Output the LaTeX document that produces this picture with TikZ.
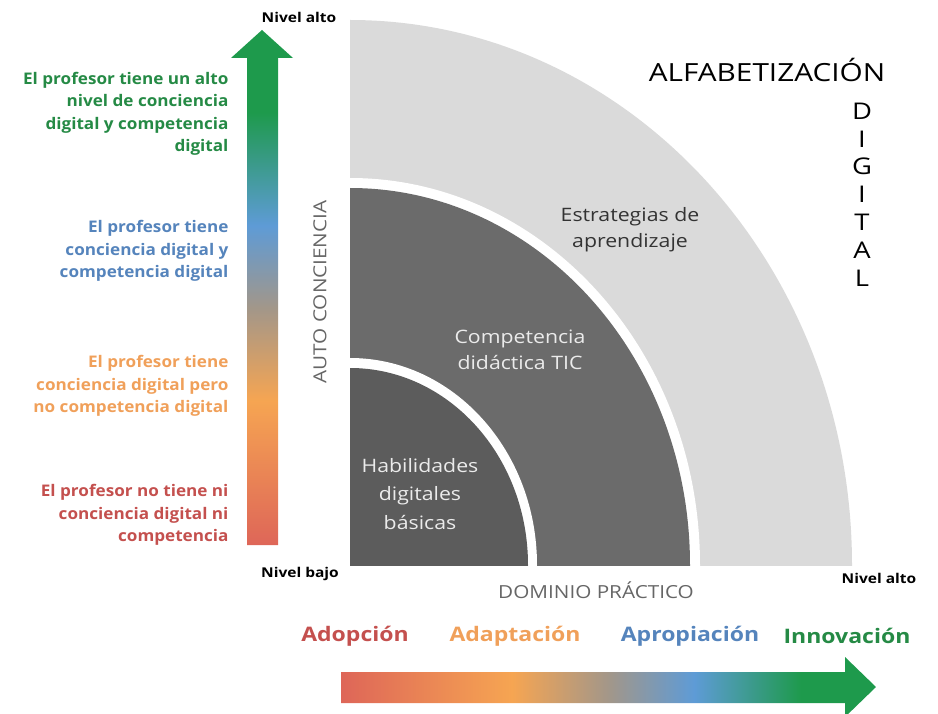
\documentclass[tikz,border=0pt]{standalone}
\usepackage{fontspec}
\setmainfont{Open Sans}
\newfontfamily\widefont{Open Sans}[FakeStretch=1.15]
\newfontfamily\levelfont{Open Sans}[FakeStretch=1.07]
\newfontfamily\titlefont{Open Sans}[FakeStretch=1.19]

\definecolor{ringlight}{HTML}{DADADA}
\definecolor{ringmid}{HTML}{6B6B6B}
\definecolor{ringin}{HTML}{5C5C5C}
\definecolor{redA}{HTML}{DE6658}
\definecolor{orangeA}{HTML}{F6A552}
\definecolor{blueA}{HTML}{5E9BD6}
\definecolor{greenA}{HTML}{1E9A4C}
\definecolor{txtred}{HTML}{C4504E}
\definecolor{txtorange}{HTML}{F0A05A}
\definecolor{txtblue}{HTML}{5584BC}
\definecolor{txtgreen}{HTML}{258A45}

\pgfdeclareverticalshading{vgrad}{100bp}{color(0bp)=(redA); color(25bp)=(redA);
  color(39bp)=(orangeA); color(48bp)=(orangeA!55!blueA!70!gray); color(56bp)=(blueA);
  color(67bp)=(greenA); color(100bp)=(greenA)}
\pgfdeclarehorizontalshading{hgrad}{100bp}{color(0bp)=(redA); color(25bp)=(redA);
  color(41bp)=(orangeA); color(50bp)=(orangeA!55!blueA!70!gray); color(58bp)=(blueA);
  color(68bp)=(greenA); color(100bp)=(greenA)}

\tikzset{
  level/.style={font=\levelfont\bfseries\fontsize{16}{22.5}\selectfont, align=right, anchor=east},
  stage/.style={font=\widefont\bfseries\fontsize{20}{22}\selectfont},
  ringtext/.style={font=\widefont\fontsize{18.5}{26}\selectfont, align=center},
  axistext/.style={font=\widefont\fontsize{18}{20}\selectfont, text=black!60},
  endtext/.style={font=\widefont\bfseries\fontsize{13.5}{14}\selectfont}
}

\begin{document}
\begin{tikzpicture}[x=1pt,y=-1pt]
  \useasboundingbox (0,0) rectangle (938,714);

  % Draw the quarter rings
  \begin{scope}
    \clip (350,0) rectangle (938,565);
    \fill[ringlight] (350,565) ellipse[x radius=502, y radius=545];
    \fill[white] (350,565) ellipse[x radius=350, y radius=387];
    \fill[ringmid] (350,565) ellipse[x radius=340, y radius=377];
    \fill[white] (350,565) ellipse[x radius=187, y radius=207];
    \fill[ringin] (350,565) ellipse[x radius=178, y radius=197];
  \end{scope}

  % Draw the arrows
  \shade[shading=vgrad] (247,545) -- (247,58) -- (231,58) -- (262,30) -- (293,58)
    -- (278,58) -- (278,545) -- cycle;
  \shade[shading=hgrad] (341,672) -- (845,672) -- (845,657) -- (876,687) -- (845,717)
    -- (845,703) -- (341,703) -- cycle;

  % Add the ring labels
  \node[ringtext, text=black!80] (estrategias) at (630,230) {Estrategias de\\aprendizaje};
  \node[ringtext, text=white!92!black] (competencia) at (520,350) {Competencia\\didáctica TIC};
  \node[ringtext, text=white!92!black, font=\widefont\fontsize{18.5}{28.5}\selectfont] (habilidades) at (420,494) {Habilidades\\digitales\\básicas};

  % Add the axis labels
  \node[axistext, rotate=90] (auto) at (320,292) {AUTO CONCIENCIA};
  \node[axistext] (dominio) at (596,590) {DOMINIO PRÁCTICO};
  \node[endtext] (altoy) at (299,17) {Nivel alto};
  \node[endtext] (bajo) at (300,574) {Nivel bajo};
  \node[endtext] (altox) at (879,578) {Nivel alto};

  % Add the title
  \node[font=\titlefont\fontsize{25}{26}\selectfont] (alfa) at (767,70) {ALFABETIZACIÓN};
  \foreach \l [count=\i from 0] in {D,I,G,I,T,A,L} {
    \node[font=\titlefont\fontsize{23}{24}\selectfont] (dig\i) at (862,111+27.8*\i) {\l};
  }

  % Add the levels of the teacher
  \node[level, text=txtgreen] (verde) at (232,114) {El profesor tiene un alto\\nivel de conciencia\\digital y competencia\\digital};
  \node[level, text=txtblue] (azul) at (232,251) {El profesor tiene\\conciencia digital y\\competencia digital};
  \node[level, text=txtorange] (naranja) at (232,386) {El profesor tiene\\conciencia digital pero\\no competencia digital};
  \node[level, text=txtred] (rojo) at (232,515) {El profesor no tiene ni\\conciencia digital ni\\competencia};

  % Add the stages
  \node[stage, text=txtred] (adopcion) at (355,636) {Adopción};
  \node[stage, text=txtorange] (adaptacion) at (515,636) {Adaptación};
  \node[stage, text=txtblue] (apropiacion) at (690,636) {Apropiación};
  \node[stage, text=txtgreen] (innovacion) at (847,636) {Innovación};
\end{tikzpicture}
\end{document}
